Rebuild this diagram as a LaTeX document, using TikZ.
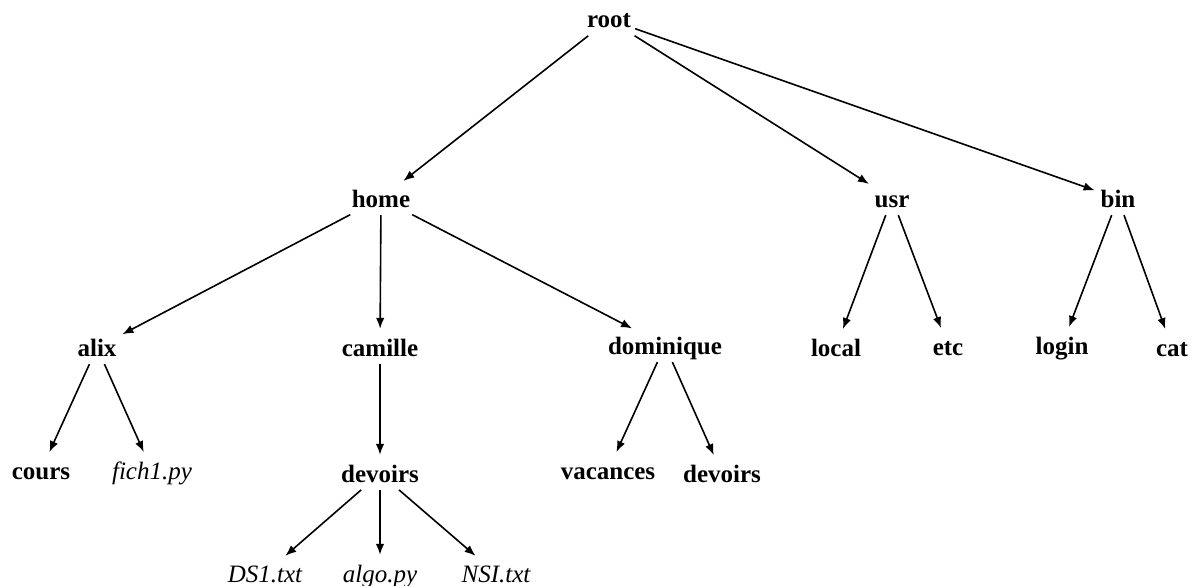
\documentclass[tikz,border=0pt]{standalone}
\usepackage{fontspec}
\setmainfont{Liberation Serif}
\usetikzlibrary{arrows.meta}
\begin{document}
\begin{tikzpicture}[x=1pt,y=-1pt,
  dir/.style={anchor=base,font=\fontsize{25}{28}\selectfont\bfseries,text height=22pt,text depth=5pt,inner xsep=3pt,inner ysep=2pt},
  fil/.style={anchor=base,font=\fontsize{25}{28}\selectfont\itshape,text height=22pt,text depth=5pt,inner xsep=3pt,inner ysep=2pt},
  arr/.style={line width=1.6pt,-{Latex[length=11pt,width=8.5pt]},shorten >=3pt,shorten <=1pt}]
\useasboundingbox (0,0) rectangle (1200,586);
\node[dir] (root) at (609,28) {root};
\node[dir] (home) at (381,207) {home};
\node[dir] (usr) at (892,207) {usr};
\node[dir] (bin) at (1118,207) {bin};
\node[dir] (alix) at (97,356) {alix};
\node[dir] (camille) at (380,356) {camille};
\node[dir] (dominique) at (665,354) {dominique};
\node[dir] (local) at (836,356) {local};
\node[dir] (etc) at (948,355) {etc};
\node[dir] (login) at (1062,354) {login};
\node[dir] (cat) at (1172,356) {cat};
\node[dir] (cours) at (41,479) {cours};
\node[fil] (fich) at (152,479) {fich1.py};
\node[dir] (devoirs1) at (380,482) {devoirs};
\node[dir] (vacances) at (608,479) {vacances};
\node[dir] (devoirs2) at (722,482) {devoirs};
\node[fil] (ds) at (265,582) {DS1.txt};
\node[fil] (algo) at (380,582) {algo.py};
\node[fil] (nsi) at (496,582) {NSI.txt};
\draw[arr] (root) -- (home);
\draw[arr] (root) -- (usr);
\draw[arr] (root) -- (bin);
\draw[arr] (home) -- (alix);
\draw[arr] (home) -- (camille);
\draw[arr] (home) -- (dominique);
\draw[arr] (alix) -- (cours);
\draw[arr] (alix) -- (fich);
\draw[arr] (camille) -- (devoirs1);
\draw[arr] (dominique) -- (vacances);
\draw[arr] (dominique) -- (devoirs2);
\draw[arr] (usr) -- (local);
\draw[arr] (usr) -- (etc);
\draw[arr] (bin) -- (login);
\draw[arr] (bin) -- (cat);
\draw[arr] (devoirs1) -- (ds);
\draw[arr] (devoirs1) -- (algo);
\draw[arr] (devoirs1) -- (nsi);
\end{tikzpicture}
\end{document}
